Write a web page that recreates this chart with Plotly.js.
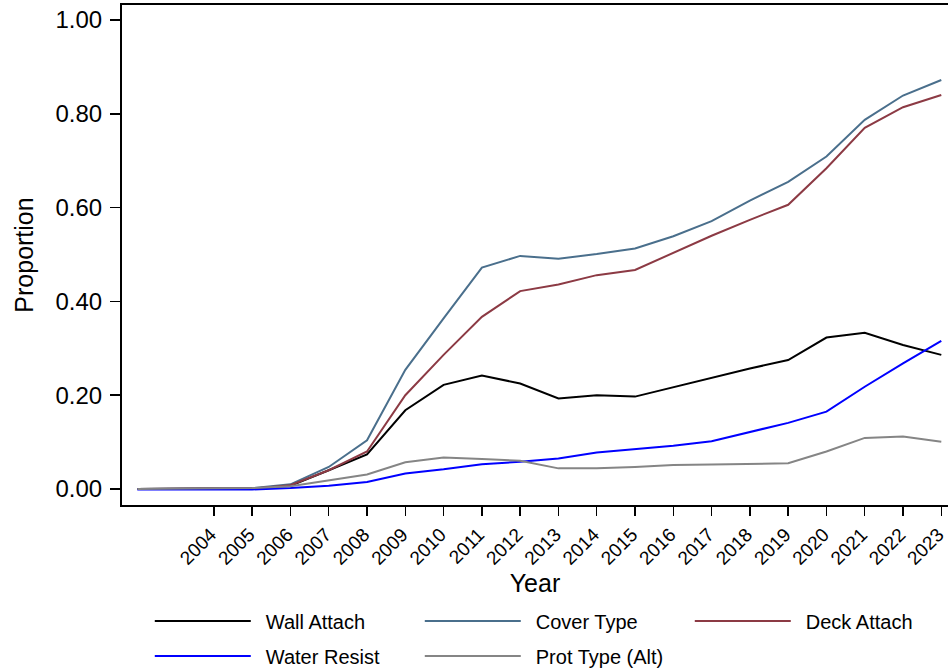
<!DOCTYPE html>
<html>
<head>
<meta charset="utf-8">
<script src="https://cdn.plot.ly/plotly-3.0.1.min.js"></script>
<style>html,body{margin:0;padding:0;background:#fff;}#chart{width:948px;height:672px;}</style>
</head>
<body>
<div id="chart"></div>
<script>
const years = [2002,2003,2004,2005,2006,2007,2008,2009,2010,2011,2012,2013,2014,2015,2016,2017,2018,2019,2020,2021,2022,2023];
const tickYears = [2004,2005,2006,2007,2008,2009,2010,2011,2012,2013,2014,2015,2016,2017,2018,2019,2020,2021,2022,2023];
const wallAttach  = [0.000,0.001,0.001,0.001,0.007,0.040,0.074,0.168,0.222,0.242,0.225,0.193,0.200,0.197,0.217,0.236,0.257,0.275,0.323,0.333,0.307,0.286];
const coverType   = [0.000,0.001,0.002,0.002,0.010,0.047,0.104,0.254,0.364,0.472,0.497,0.491,0.501,0.513,0.539,0.571,0.615,0.655,0.709,0.787,0.839,0.872];
const deckAttach  = [0.000,0.001,0.001,0.001,0.008,0.040,0.080,0.200,0.286,0.367,0.422,0.436,0.456,0.467,0.503,0.540,0.574,0.606,0.684,0.770,0.814,0.840];
const waterResist = [-0.001,-0.001,-0.001,-0.001,0.002,0.007,0.015,0.033,0.042,0.053,0.058,0.065,0.078,0.085,0.092,0.102,0.122,0.141,0.165,0.218,0.268,0.316];
const protTypeAlt = [0.000,0.001,0.002,0.002,0.006,0.019,0.031,0.057,0.067,0.064,0.060,0.044,0.044,0.047,0.051,0.052,0.053,0.055,0.080,0.109,0.112,0.101];
const yTicks = [0,0.2,0.4,0.6,0.8,1.0];
const yTickLabels = ["0.00","0.20","0.40","0.60","0.80","1.00"];

const names = ["Wall Attach","Cover Type","Deck Attach","Water Resist","Prot Type (Alt)"];
const series = [wallAttach, coverType, deckAttach, waterResist, protTypeAlt];
const colors = ["#000000","#4a6f8c","#8c3a44","#0000ff","#858585"];
const legendOf = ["legend","legend","legend","legend2","legend2"];

const traces = series.map((s,i)=>({
  x: years, y: s, type:'scatter', mode:'lines', name: '\u2002' + names[i],
  line:{color: colors[i], width: 2}, legend: legendOf[i]
}));
const FONT = 'Liberation Sans, Arial, sans-serif';
const legendBase = {
  orientation:'h', xref:'container', yref:'container', x:0.158, xanchor:'left', yanchor:'middle',
  font:{size:20, family:FONT}, itemwidth:96, entrywidth:159, entrywidthmode:'pixels',
  bgcolor:'rgba(0,0,0,0)', borderwidth:0
};
const layout = {
  width:948, height:672,
  margin:{l:122, r:0, t:5, b:167},
  paper_bgcolor:'#fff', plot_bgcolor:'#fff',
  font:{family:FONT, color:'#000'},
  showlegend:true,
  xaxis:{
    range:[2001.6, 2023.175], tickmode:'array', tickvals:tickYears, ticktext:tickYears.map(String),
    tickangle:-45, ticks:'outside', ticklen:9, tickwidth:1.5, tickcolor:'#000',
    showline:true, linecolor:'#000', linewidth:2, mirror:true, showgrid:false, zeroline:false,
    tickfont:{size:19, family:FONT}, ticklabeloverflow:'allow', automargin:false,
    ticklabelshift:-3,
    title:{text:'Year', font:{size:25}, standoff:0}
  },
  yaxis:{
    range:[-0.0341, 1.032], tickmode:'array', tickvals:yTicks, ticktext:yTickLabels,
    ticks:'outside', ticklen:10, tickwidth:1.5, tickcolor:'#000',
    showline:true, linecolor:'#000', linewidth:2, showgrid:false, zeroline:false,
    tickfont:{size:24, family:FONT}, automargin:false, ticklabelstandoff:3,
    title:{text:'Proportion', font:{size:25}, standoff:15}
  },
  legend: Object.assign({}, legendBase, {y: 1 - 621/672}),
  legend2: Object.assign({}, legendBase, {y: 1 - 656/672})
};
Plotly.newPlot('chart', traces, layout, {displayModeBar:false, staticPlot:true});
</script>
</body>
</html>
